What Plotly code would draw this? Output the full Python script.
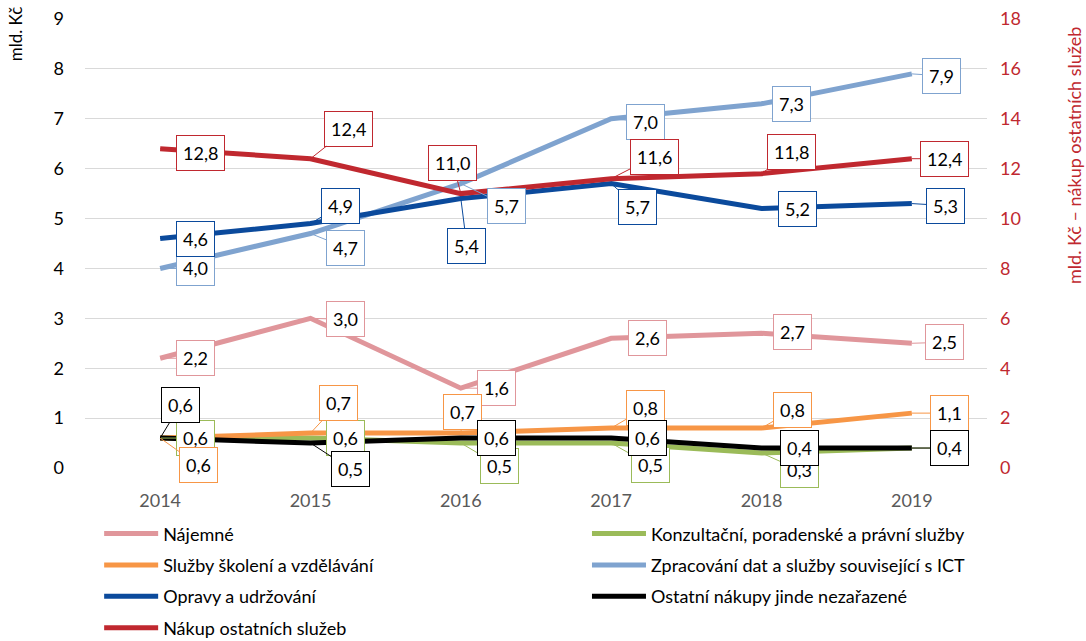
import plotly.graph_objects as go

years = ["2014", "2015", "2016", "2017", "2018", "2019"]

najemne = [2.2, 3.0, 1.6, 2.6, 2.7, 2.5]
konzultacni = [0.6, 0.6, 0.5, 0.5, 0.3, 0.4]
skoleni = [0.6, 0.7, 0.7, 0.8, 0.8, 1.1]
ict = [4.0, 4.7, 5.7, 7.0, 7.3, 7.9]
opravy = [4.6, 4.9, 5.4, 5.7, 5.2, 5.3]
ostatni_nakupy = [0.6, 0.5, 0.6, 0.6, 0.4, 0.4]
nakup_sluzeb = [12.8, 12.4, 11.0, 11.6, 11.8, 12.4]

FONT = "Lato"
RED = "#C0282F"

# name, values, colour, axis, legend, callout offsets (dx, dy) per point
series = [
    ("Nájemné", najemne, "#E0969B", "y", "legend",
     [(35, 0), (35, 1), (36, 0), (36, 0), (31, -1), (33, -1)]),
    ("Konzultační, poradenské a právní služby", konzultacni, "#9BBB59", "y", "legend2",
     [(35, 0), (35, 0), (39, 23), (39, 22), (38, 17), (38, 0)]),
    ("Služby školení a vzdělávání", skoleni, "#F79646", "y", "legend",
     [(38, 27), (28, -30), (2, -21), (34, -20), (31, -18), (38, 0)]),
    ("Zpracování dat a služby související s ICT", ict, "#7FA3CF", "y", "legend2",
     [(35, 0), (35, 14), (46, 22), (34, 3), (30, 0), (30, 2)]),
    ("Opravy a udržování", opravy, "#0B4A9C", "y", "legend",
     [(35, 0), (30, -18), (6, 47), (26, 23), (36, 0), (34, 2)]),
    ("Ostatní nákupy jinde nezařazené", ostatni_nakupy, "#000000", "y", "legend2",
     [(20, -33), (40, 26), (36, 0), (36, 0), (38, 0), (38, 0)]),
    ("Nákup ostatních služeb", nakup_sluzeb, RED, "y2", "legend",
     [(40, 4), (38, -30), (-8, -31), (43, -22), (30, -22), (33, 0)]),
]

fig = go.Figure()
annotations = []

for i, (name, vals, color, yax, leg, offs) in enumerate(series):
    fig.add_trace(go.Scatter(
        x=years, y=vals, name=name, mode="lines",
        line=dict(color=color, width=5),
        yaxis=yax, legend=leg, legendgroup=f"g{i}",
        hoverinfo="skip",
    ))
    # callout labels; category axis positions are given by index
    for k, (v, (dx, dy)) in enumerate(zip(vals, offs)):
        annotations.append(dict(
            x=k, y=v, xref="x", yref=yax,
            text=f"{v:.1f}".replace(".", ","),
            showarrow=True, arrowhead=0, arrowwidth=1, arrowcolor=color,
            standoff=0, ax=dx, ay=dy,
            bgcolor="white", bordercolor=color, borderwidth=1, borderpad=6,
            font=dict(family=FONT, size=18, color="#000000"),
        ))

# axis titles
annotations.append(dict(
    text="mld. Kč", xref="paper", yref="paper", x=-0.0776, y=0.966,
    xanchor="center", yanchor="middle", textangle=-90, showarrow=False,
    font=dict(family=FONT, size=17, color="#000000"),
))
annotations.append(dict(
    text="mld. Kč – nákup ostatních služeb", xref="paper", yref="paper",
    x=1.0965, y=0.695, xanchor="center", yanchor="middle", textangle=-90,
    showarrow=False, font=dict(family=FONT, size=18, color=RED),
))

legend_style = dict(
    orientation="v", xanchor="left", yanchor="top",
    xref="container", yref="container",
    font=dict(family=FONT, size=18, color="#000000"),
    bgcolor="rgba(0,0,0,0)", tracegroupgap=5, itemwidth=54,
)

fig.update_layout(
    width=1086, height=641,
    margin=dict(l=85, r=99, t=19, b=173, autoexpand=False),
    paper_bgcolor="white", plot_bgcolor="white",
    font=dict(family=FONT),
    xaxis=dict(
        type="category", range=[-0.5, 5.5], showgrid=False, zeroline=False,
        showline=False, ticks="", ticklabelstandoff=20,
        tickfont=dict(family=FONT, size=18, color="#595959"),
    ),
    yaxis=dict(
        range=[0, 9], dtick=1, showgrid=True, gridcolor="#D9D9D9", gridwidth=1,
        zeroline=False, showline=False, ticks="", ticklabelstandoff=20,
        tickfont=dict(family=FONT, size=18, color="#000000"),
    ),
    yaxis2=dict(
        range=[0, 18], dtick=2, overlaying="y", side="right", showgrid=False,
        zeroline=False, showline=False, ticks="", ticklabelstandoff=12,
        tickfont=dict(family=FONT, size=18, color=RED),
    ),
    legend=dict(x=0.0913, y=0.196, **legend_style),
    legend2=dict(x=0.5405, y=0.196, **legend_style),
    annotations=annotations,
    showlegend=True,
)

fig.write_html("out.html")
